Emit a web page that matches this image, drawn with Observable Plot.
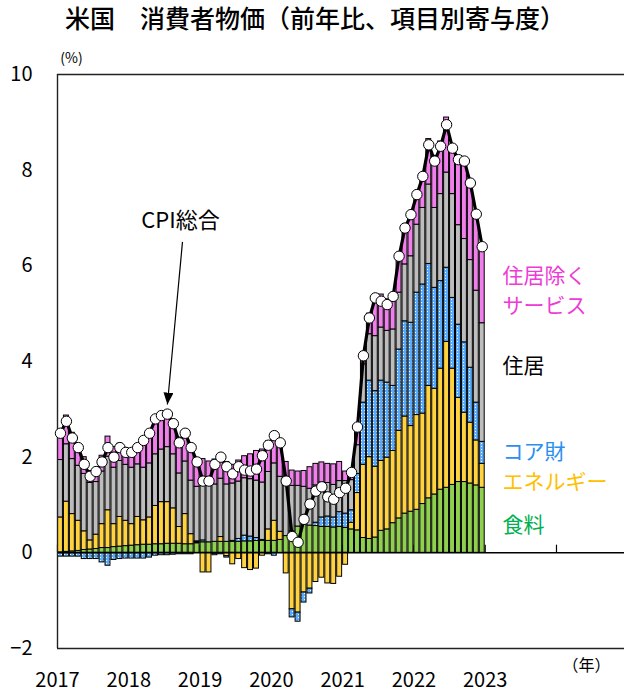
<!DOCTYPE html>
<html>
<head>
<meta charset="utf-8">
<script src="https://cdn.jsdelivr.net/npm/d3@7"></script>
<script src="https://cdn.jsdelivr.net/npm/@observablehq/plot@0.6"></script>
<style>
  body { margin: 0; background: white; }
  #title { height: 40px; line-height: 34px; text-align: center; padding-left: 6px; box-sizing: border-box;
           font-family: "Noto Sans CJK JP", sans-serif; font-size: 25px; font-weight: 500; color: #000; white-space: nowrap; }
  svg { display: block; }
</style>
</head>
<body>
<div id="title">米国　消費者物価（前年比、項目別寄与度）</div>
<div id="chart"></div>
<script>
// Jan 2017 .. Dec 2022 (72 months), contributions in %pt
const yearLabels = ["2017","2018","2019","2020","2021","2022","2023"];
const seriesNames = ["食料","エネルギー","コア財","住居","住居除くサービス"];

const food = [
  0.01,0.02,0.03,0.04,0.06,0.07,0.08,0.10,0.10,0.12,0.13,0.14,
  0.15,0.16,0.17,0.17,0.18,0.18,0.19,0.19,0.19,0.18,0.18,0.20,
  0.22,0.22,0.23,0.23,0.23,0.23,0.23,0.24,0.24,0.25,0.25,0.25,
  0.25,0.27,0.35,0.45,0.55,0.60,0.57,0.56,0.54,0.54,0.53,0.54,
  0.52,0.49,0.47,0.31,0.29,0.32,0.46,0.49,0.62,0.72,0.82,0.86,
  0.90,1.02,1.14,1.22,1.32,1.36,1.42,1.48,1.48,1.45,1.41,1.36];
const energy = [
  0.73,1.05,0.78,0.63,0.39,0.19,0.30,0.50,0.79,0.48,0.62,0.53,
  0.45,0.59,0.51,0.57,0.80,0.88,0.87,0.74,0.35,0.63,0.21,0.02,
  -0.41,-0.41,-0.02,0.10,-0.07,-0.24,-0.13,-0.32,-0.36,-0.33,-0.06,0.24,
  0.42,0.17,-0.43,-1.18,-1.25,-0.83,-0.75,-0.61,-0.52,-0.64,-0.65,-0.50,
  -0.25,0.14,0.78,1.53,1.71,1.48,1.46,1.50,1.51,1.83,2.03,1.79,
  1.98,1.89,2.35,2.21,2.53,3.05,2.43,1.76,1.45,1.27,0.94,0.50];
const coreGoods = [
  -0.08,-0.08,-0.08,-0.08,-0.13,-0.13,-0.13,-0.20,-0.27,-0.15,-0.13,-0.12,
  -0.12,-0.12,-0.12,-0.10,-0.06,-0.05,-0.05,-0.04,-0.03,-0.03,-0.03,0.02,
  0.04,0.00,-0.03,-0.03,-0.03,0.02,0.06,0.12,0.10,0.06,0.02,-0.03,
  -0.06,0.00,0.00,-0.17,-0.19,-0.21,-0.10,0.07,0.20,0.22,0.21,0.31,
  0.30,0.26,0.40,1.30,1.60,1.58,1.68,1.57,1.36,1.70,1.99,2.16,
  2.56,2.70,2.55,2.11,1.83,1.55,1.48,1.53,1.47,1.15,0.79,0.46];
const shelter = [
  1.20,1.20,1.15,1.15,1.20,1.20,1.10,1.10,1.12,1.18,1.17,1.17,
  1.18,1.10,1.10,1.13,1.08,1.10,1.15,1.13,1.12,1.10,1.12,1.14,
  1.20,1.20,1.20,1.22,1.20,1.20,1.20,1.20,1.20,1.20,1.20,1.20,
  1.20,1.15,1.05,0.95,0.85,0.78,0.77,0.78,0.73,0.70,0.68,0.65,
  0.68,0.63,0.60,0.80,0.97,1.15,1.11,1.08,1.18,1.19,1.19,1.39,
  1.42,1.60,1.66,1.67,1.82,1.99,2.17,2.08,2.16,2.25,2.34,2.48];
const servicesExShelter = [
  0.50,0.60,0.55,0.35,0.35,0.25,0.25,0.33,0.42,0.43,0.36,0.35,
  0.38,0.42,0.60,0.62,0.65,0.70,0.70,0.69,0.75,0.65,0.62,0.53,
  0.50,0.49,0.52,0.48,0.47,0.39,0.44,0.46,0.52,0.62,0.69,0.64,
  0.65,0.75,0.50,0.32,0.30,0.33,0.45,0.45,0.42,0.40,0.43,0.40,
  0.20,0.20,0.35,0.26,0.43,0.80,0.69,0.66,0.73,0.76,0.77,0.80,
  0.64,0.69,0.95,1.09,1.10,1.15,1.00,1.42,1.60,1.60,1.62,1.55];
const cpi = [
  2.5,2.75,2.4,2.2,1.85,1.6,1.7,1.9,2.2,2.0,2.2,2.1,
  2.1,2.2,2.35,2.5,2.8,2.87,2.9,2.7,2.3,2.5,2.2,1.9,
  1.5,1.5,1.85,2.0,1.8,1.65,1.8,1.73,1.71,1.75,2.03,2.25,
  2.45,2.3,1.5,0.34,0.22,0.7,1.02,1.29,1.38,1.17,1.12,1.26,
  1.35,1.68,2.63,4.12,4.91,5.33,5.26,5.19,5.36,6.2,6.79,7.07,
  7.49,7.87,8.53,8.19,8.5,8.95,8.46,8.22,8.19,7.73,7.08,6.4];

const seriesValues = [food, energy, coreGoods, shelter, servicesExShelter];
const coreSolid = "#7cbcf8";
const seriesFills = ["#8fd14f", "#ffd23f", coreSolid, "#bdbdbd", "#f07fec"];
const labelColors = ["#00b050", "#ffc000", "#2b8ff0", "#000000", "#ee3bd6"];

const months = d3.range(cpi.length);
const rows = months.flatMap(m => seriesNames.map((s, k) => ({m, series: s, value: seriesValues[k][m]})))
  .filter(d => d.value !== 0);
const cpiRows = months.map(m => ({m: m + 0.5, v: cpi[m]}));
const yearTicks = d3.range(0, 97, 12);

const legendRows = [
  {text: "住居除く\nサービス", y: 5.53, k: 4},
  {text: "住居", y: 3.97, k: 3},
  {text: "コア財", y: 2.17, k: 2},
  {text: "エネルギー", y: 1.54, k: 1},
  {text: "食料", y: 0.63, k: 0}
];

const chart = Plot.plot({
  width: 624,
  height: 653,
  marginLeft: 57,
  marginRight: 0,
  marginTop: 34,
  marginBottom: 45,
  style: {fontFamily: "'Noto Sans CJK JP', sans-serif", fontSize: "20px", background: "white", color: "black"},
  x: {domain: [0, 95.45], ticks: yearTicks.slice(0, yearLabels.length), tickFormat: d => yearLabels[d / 12],
      tickSize: 0, tickPadding: 24, label: null},
  y: {domain: [-2, 10], ticks: [-2, 0, 2, 4, 6, 8, 10], tickSize: 0, tickPadding: 25, label: null},
  color: {domain: seriesNames, range: seriesFills},
  marks: [
    Plot.ruleX(yearTicks, {x: d => d, y1: 0, y2: 0.16, stroke: "black", strokeWidth: 1.2}),
    Plot.rectY(rows, {x1: "m", x2: d => d.m + 1, y: "value", fill: "series",
      stroke: "black", strokeWidth: 1, insetLeft: 0.5, insetRight: 0.5}),
    Plot.ruleY([0], {stroke: "black", strokeWidth: 1.5}),
    Plot.ruleY([10, -2], {stroke: "#222", strokeWidth: 1.4}),
    Plot.ruleX([0], {stroke: "#222", strokeWidth: 1.4}),
    Plot.line(cpiRows, {x: "m", y: "v", stroke: "black", strokeWidth: 3.2, curve: "linear"}),
    Plot.dot(cpiRows, {x: "m", y: "v", r: 5.2, fill: "white", stroke: "black", strokeWidth: 1}),
    Plot.text(legendRows, {x: 74.9, y: "y", text: "text", fill: d => labelColors[d.k], textAnchor: "start",
      lineHeight: 1.43, fontSize: 21}),
    Plot.text(["CPI総合"], {x: 20.7, y: 6.93, text: d => d, fontSize: 22, fill: "black"}),
    Plot.link([0], {x1: 21.04, y1: 6.5, x2: 18.5, y2: 3.1, stroke: "black", strokeWidth: 1.2}),
    Plot.text(["(%)"], {frameAnchor: "top-left", text: d => d, textAnchor: "middle", lineAnchor: "middle",
      dx: 14, dy: -16, fontSize: 14}),
    Plot.text(["（年）"], {frameAnchor: "bottom-right", text: d => d, textAnchor: "middle", lineAnchor: "middle",
      dx: -38, dy: 17, fontSize: 16})
  ]
});

const svg = d3.select(chart);
const defs = svg.insert("defs", ":first-child");
const pat = defs.append("pattern").attr("id", "coredots").attr("patternUnits", "userSpaceOnUse")
  .attr("width", 3).attr("height", 3);
pat.append("rect").attr("width", 3).attr("height", 3).attr("fill", "#5aacfa");
pat.append("rect").attr("x", 1).attr("y", 1).attr("width", 1).attr("height", 1).attr("fill", "#ffffff");
defs.append("marker").attr("id", "ah").attr("viewBox", "0 0 12 10").attr("refX", 12).attr("refY", 5)
  .attr("markerUnits", "userSpaceOnUse").attr("markerWidth", 12).attr("markerHeight", 10).attr("orient", "auto")
  .append("path").attr("d", "M0,0L12,5L0,10z").attr("fill", "black");
svg.selectAll("g[aria-label=link] path").attr("marker-end", "url(#ah)");
svg.selectAll("rect").filter(function() { return this.getAttribute("fill") === coreSolid; })
  .attr("fill", "url(#coredots)");

document.getElementById("chart").appendChild(chart);
</script>
</body>
</html>
